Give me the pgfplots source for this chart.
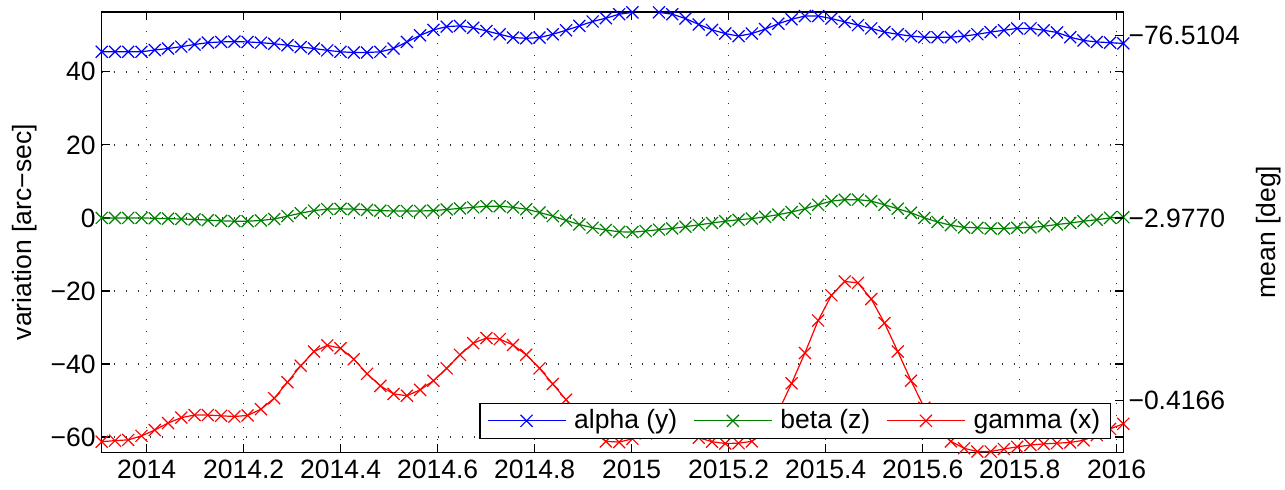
\documentclass[border=0pt]{standalone}
\usepackage{pgfplots}
\pgfplotsset{compat=1.18}
\usepackage{pgfplotstable}
\usepackage{fontspec}
\setmainfont{Liberation Sans}
\definecolor{mblue}{rgb}{0,0,1}
\definecolor{mgreen}{rgb}{0,0.5,0}
\definecolor{mred}{rgb}{1,0,0}
\newcommand{\bigf}{\fontsize{26.5bp}{31bp}\selectfont}

\pgfplotstableread{
x a b g
2013.9072 45.5 0.0 -61.3
2013.9346 45.5 0.0 -61.0
2013.9619 45.5 0.0 -60.8
2013.9893 45.5 0.0 -59.7
2014.0166 46.0 -0.1 -58.1
2014.0440 46.4 -0.2 -56.2
2014.0713 46.9 -0.3 -54.7
2014.0987 47.5 -0.4 -54.0
2014.1260 48.0 -0.6 -54.0
2014.1534 48.2 -0.8 -54.2
2014.1808 48.3 -0.9 -54.4
2014.2081 48.2 -0.9 -54.1
2014.2355 48.0 -0.7 -52.4
2014.2628 47.7 -0.3 -49.4
2014.2902 47.3 0.5 -45.0
2014.3175 46.8 1.3 -40.5
2014.3449 46.4 2.0 -36.6
2014.3723 45.9 2.4 -34.9
2014.3996 45.5 2.5 -35.7
2014.4270 45.3 2.4 -38.7
2014.4543 45.3 2.2 -42.7
2014.4817 45.5 2.0 -46.0
2014.5090 46.4 1.9 -48.2
2014.5364 48.2 1.9 -48.7
2014.5637 50.0 1.9 -47.1
2014.5911 51.5 2.0 -44.6
2014.6185 52.4 2.3 -41.2
2014.6458 52.6 2.6 -37.5
2014.6732 52.1 2.9 -34.3
2014.7005 51.2 3.2 -32.9
2014.7279 50.3 3.2 -33.2
2014.7552 49.4 2.9 -34.8
2014.7826 49.2 2.4 -37.5
2014.8099 49.4 1.5 -41.2
2014.8373 50.3 0.5 -45.5
2014.8647 51.4 -0.7 -49.8
2014.8920 52.6 -1.8 -54.5
2014.9194 53.8 -2.7 -58.5
2014.9467 54.7 -3.3 -61.2
2014.9741 55.8 -3.8 -61.4
2015.0014 56.3 -3.9 -60.5
2015.0288 57.3 -3.6 -59.0
2015.0562 56.3 -3.2 -58.0
2015.0835 55.8 -2.9 -57.8
2015.1109 54.6 -2.4 -58.5
2015.1382 53.0 -1.9 -60.2
2015.1656 51.5 -1.4 -61.3
2015.1929 50.5 -0.9 -61.8
2015.2203 49.8 -0.5 -61.7
2015.2476 50.5 -0.2 -61.2
2015.2750 51.7 0.3 -58.8
2015.3024 53.2 0.9 -53.0
2015.3297 54.4 1.6 -45.3
2015.3571 55.3 2.5 -37.0
2015.3844 55.3 3.6 -28.1
2015.4118 54.6 4.6 -21.2
2015.4391 53.7 5.0 -17.4
2015.4665 52.8 5.0 -17.8
2015.4938 51.9 4.6 -22.2
2015.5212 50.9 3.6 -28.8
2015.5486 50.3 2.5 -36.6
2015.5759 49.8 1.4 -44.6
2015.6033 49.5 0.0 -52.0
2015.6306 49.5 -1.1 -58.0
2015.6580 49.5 -2.0 -61.2
2015.6853 49.8 -2.6 -63.1
2015.7127 50.3 -2.7 -64.0
2015.7401 50.9 -2.9 -64.0
2015.7674 51.4 -2.9 -63.3
2015.7948 51.9 -2.7 -62.7
2015.8221 51.9 -2.6 -62.2
2015.8495 51.4 -2.3 -61.9
2015.8768 50.8 -1.8 -61.7
2015.9042 49.5 -1.4 -61.5
2015.9315 48.6 -0.9 -60.9
2015.9589 48.2 -0.5 -59.5
2015.9863 48.0 0.0 -57.8
2016.0136 47.8 0.2 -56.4
}\data

\begin{document}
\bigf
\begin{tikzpicture}[font=\bigf]
\path[use as bounding box] (-101.7bp,-37.7bp) rectangle (1183.3bp,452.3bp);
\begin{axis}[
  at={(0,0)}, anchor=south west,
  scale only axis, width=1021.6bp, height=440.3bp,
  xmin=2013.9072, xmax=2016.0136, ymin=-64.2, ymax=56.4,
  xtick={2014,2014.2,2014.4,2014.6,2014.8,2015,2015.2,2015.4,2015.6,2015.8,2016},
  xticklabels={2014,2014.2,2014.4,2014.6,2014.8,2015,2015.2,2015.4,2015.6,2015.8,2016},
  ytick={-60,-40,-20,0,20,40},
  yticklabels={−60,−40,−20,0,20,40},
  xticklabel pos=bottom, yticklabel pos=left,
  xtick pos=both, ytick pos=both,
  tick label style={font=\bigf},
  label style={font=\bigf},
  xticklabel style={inner sep=7bp},
  yticklabel style={inner sep=6bp},
  tick align=inside, major tick length=8bp,
  grid=major,
  major grid style={dash pattern=on 1.5bp off 10.5bp, line width=1.3bp, black!80},
  axis line style={line width=1.4bp},
  every tick/.style={black, line width=1.2bp},
  ylabel={variation [arc−sec]},
  ylabel style={at={(axis description cs:-0.0751,0.5)}, anchor=center},
  legend columns=3,
  legend style={at={(0.9877,0.0302)}, anchor=south east, draw=black,
    line width=1.2bp, fill=white, inner xsep=7bp, inner ysep=3bp,
    font=\bigf, nodes={inner sep=3bp},
    /tikz/every odd column/.append style={column sep=5bp},
    /tikz/every even column/.append style={column sep=13bp}},
  legend image code/.code={\draw[mark repeat=2,mark phase=2] plot coordinates {(0bp,0bp) (39bp,0bp) (78bp,0bp)};},
]
\addplot[mblue, line width=1.2bp, mark=x, mark size=8.5bp, mark options={solid, line width=1.2bp}, restrict y to domain=-100:57] table[x=x,y=a] {\data};
\addlegendentry{alpha (y)}
\addplot[mgreen, line width=1.2bp, mark=x, mark size=8.5bp, mark options={solid, line width=1.2bp}] table[x=x,y=b] {\data};
\addlegendentry{beta (z)}
\addplot[mred, line width=1.2bp, mark=x, mark size=8.5bp, mark options={solid, line width=1.2bp}] table[x=x,y=g] {\data};
\addlegendentry{gamma (x)}
\end{axis}
\begin{axis}[
  at={(0,0)}, anchor=south west,
  scale only axis, width=1021.6bp, height=440.3bp,
  xmin=2013.9072, xmax=2016.0136, ymin=-64.2, ymax=56.4,
  axis x line=none, axis y line*=right,
  ytick={-50,0,50},
  yticklabels={−0.4166,−2.9770,−76.5104},
  tick label style={font=\bigf},
  label style={font=\bigf},
  yticklabel style={inner sep=5bp},
  tick align=inside, major tick length=8bp,
  axis line style={line width=1.4bp},
  every tick/.style={black, line width=1.2bp},
  ylabel={mean [deg]},
  ylabel style={at={(axis description cs:1.1419,0.5)}, anchor=center},
]
\end{axis}
\end{tikzpicture}
\end{document}
